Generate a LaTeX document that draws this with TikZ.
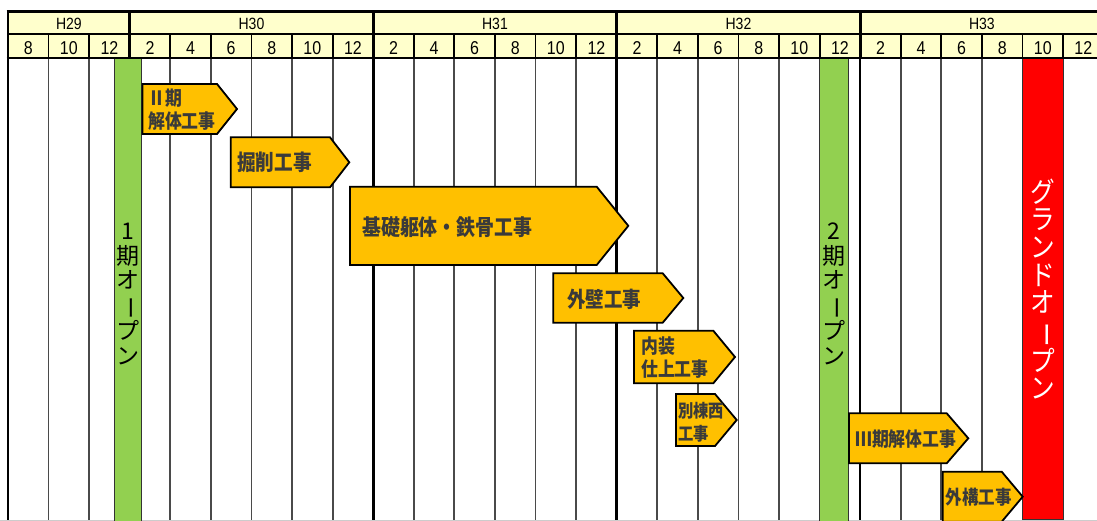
\documentclass[tikz,border=0pt]{standalone}
\usepackage{fontspec}
\usepackage{graphicx}
\newfontfamily\hdrfont{Liberation Sans}[FakeStretch=0.86]
\newfontfamily\taskfont{Noto Sans CJK JP}[FakeStretch=0.86]
\newfontfamily\openfont{Noto Sans CJK JP}
\newfontfamily\grandfont{Noto Sans CJK JP}[FakeStretch=0.88]
\definecolor{hdrfill}{HTML}{FFFFCC}
\definecolor{taskfill}{HTML}{FFC000}
\definecolor{openfill}{HTML}{92D050}
\definecolor{grandfill}{HTML}{FF0000}
\definecolor{tasktext}{HTML}{3A3A3A}
\definecolor{gridgray}{HTML}{4A4A4A}
% vertical long-vowel mark for stacked (tategaki) labels
\newcommand\vlong{\rotatebox[origin=c]{-90}{ー}}
% pentagon arrow: left x, top y, shoulder x, tip x, bottom y
\newcommand\taskshape[5]{%
  \draw[taskbox] (#1,#2) -- (#3,#2) -- (#4,{(#2+#5)/2}) -- (#3,#5) -- (#1,#5) -- cycle;}
\def\cw{40.58}
\begin{document}
\begin{tikzpicture}[x=1pt,y=-1pt,
  yearlabel/.style={inner sep=0pt,anchor=base,font=\hdrfont\fontsize{16.3}{18}\selectfont},
  monthlabel/.style={inner sep=0pt,anchor=base,font=\hdrfont\fontsize{18.6}{20}\selectfont},
  monthline/.style={gridgray,line width=1.8pt},
  yearline/.style={black,line width=2.6pt},
  hdrthin/.style={black,line width=1.8pt},
  hdrthick/.style={black,line width=2.8pt},
  taskbox/.style={fill=taskfill,draw=black,line width=1.8pt,line join=miter},
  tasklabel/.style={inner sep=0pt,anchor=west,align=left,text=tasktext},
  openbar/.style={fill=openfill,draw=black!80,line width=1pt},
  grandbar/.style={fill=grandfill,draw=black!80,line width=1pt},
  opentext/.style={inner sep=0pt,align=center,font=\openfont\fontsize{23}{24.5}\selectfont},
  grandtext/.style={inner sep=0pt,align=center,text=white,font=\grandfont\fontsize{28}{27.7}\selectfont}]
\useasboundingbox (0,0) rectangle (1097,521);
\clip (0,0) rectangle (1097,521);
\fill[white] (0,0) rectangle (1097,521);

% header background
\fill[hdrfill] (8,12) rectangle (1110,58);

% body grid
\foreach \i in {1,2,4,5,6,7,8,10,11,12,13,14,16,17,18,19,20,22,23,24,25,26}
  \draw[monthline] ({8+\cw*\i},58) -- ({8+\cw*\i},521);
\foreach \i in {0,3,9,15,21}
  \draw[yearline] ({8+\cw*\i},58) -- ({8+\cw*\i},521);
\draw[black!20,line width=1.2pt] (0,520.2) -- (1097,520.2);

% opening milestones
\draw[openbar] (114.3,58) rectangle (141,523);
\draw[openbar] (819.3,58) rectangle (848.3,523);
\draw[grandbar] (1022.5,58) rectangle (1063,519.5);
\node[opentext] (open1) at (127.7,294) {1\\期\\オ\\\vlong\\プ\\ン};
\node[opentext] (open2) at (833.8,294) {2\\期\\オ\\\vlong\\プ\\ン};
\node[grandtext] (grand) at (1042.7,289) {グ\\ラ\\ン\\ド\\オ\\\vlong\\プ\\ン};

% construction tasks
\taskshape{142.5}{84}{217}{237}{134}
\node[tasklabel,font=\taskfont\bfseries\fontsize{19.6}{23.5}\selectfont] (t1) at (148,109.5) {Ⅱ期\\解体工事};
\taskshape{230.7}{137.3}{330}{349.3}{187.3}
\node[tasklabel,font=\taskfont\bfseries\fontsize{21.7}{24}\selectfont] (t2) at (237,162.5) {掘削工事};
\taskshape{350}{186.7}{596.7}{628.3}{265}
\node[tasklabel,font=\taskfont\bfseries\fontsize{22}{24}\selectfont] (t3) at (362,227) {基礎躯体・鉄骨工事};
\taskshape{553.3}{273.3}{662.7}{683.3}{322.7}
\node[tasklabel,font=\taskfont\bfseries\fontsize{21.5}{24}\selectfont] (t4) at (567,299.5) {外壁工事};
\taskshape{634}{330.7}{713.3}{735}{383.3}
\node[tasklabel,font=\taskfont\bfseries\fontsize{19.6}{22.5}\selectfont] (t5) at (641,357.5) {内装\\仕上工事};
\taskshape{676}{394}{715}{736.7}{446}
\node[tasklabel,font=\taskfont\bfseries\fontsize{17.8}{22.5}\selectfont] (t6) at (678,422.5) {別棟西\\工事};
\taskshape{849}{413.3}{946.7}{968.3}{463.3}
\node[tasklabel,font=\taskfont\bfseries\fontsize{19.6}{22}\selectfont] (t7) at (855,439.5) {Ⅲ期解体工事};
\taskshape{942.7}{471.7}{1001.7}{1022.7}{521.7}
\node[tasklabel,font=\taskfont\bfseries\fontsize{19.2}{22}\selectfont] (t8) at (945.5,497.5) {外構工事};

% header labels
\node[yearlabel] (h29) at ({8+\cw*1.5},30) {H29};
\node[yearlabel] (h30) at ({8+\cw*6},30) {H30};
\node[yearlabel] (h31) at ({8+\cw*12},30) {H31};
\node[yearlabel] (h32) at ({8+\cw*18},30) {H32};
\node[yearlabel] (h33) at ({8+\cw*24},30) {H33};
\foreach \i/\m in {0/8,1/10,2/12,3/2,4/4,5/6,6/8,7/10,8/12,9/2,10/4,11/6,12/8,13/10,14/12,
                   15/2,16/4,17/6,18/8,19/10,20/12,21/2,22/4,23/6,24/8,25/10,26/12}
  \node[monthlabel] (m\i) at ({8+\cw*(\i+0.5)},55) {\m};

% header rules
\foreach \i in {1,2,4,5,6,7,8,10,11,12,13,14,16,17,18,19,20,22,23,24,25,26,27}
  \draw[hdrthin] ({8+\cw*\i},34) -- ({8+\cw*\i},58);
\foreach \i in {0,3,9,15,21}
  \draw[hdrthick] ({8+\cw*\i},12) -- ({8+\cw*\i},58);
\draw[black,line width=3pt] (6.6,12) -- (1110,12);
\draw[black,line width=2.4pt] (8,34) -- (1110,34);
\draw[black,line width=2.6pt] (6.6,58) -- (1110,58);
\end{tikzpicture}
\end{document}
